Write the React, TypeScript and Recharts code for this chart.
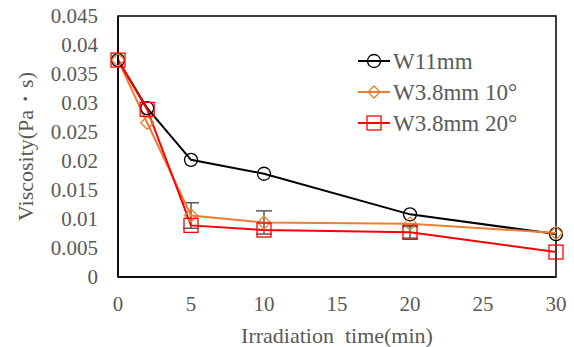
import {
  ErrorBar,
  Line,
  LineChart,
  ReferenceArea,
  XAxis,
  YAxis,
} from "recharts";

const times = [0, 2, 5, 10, 20, 30];
const w11 = [0.0374, 0.0291, 0.0202, 0.0178, 0.0108, 0.0074];
const w38deg10 = [0.0374, 0.0266, 0.0106, 0.0094, 0.0092, 0.0076];
const w38deg20 = [0.0374, 0.0289, 0.0089, 0.0081, 0.0077, 0.0043];
const errDeg10 = [null, null, 0.0022, 0.002, null, null];
const errDeg20 = [null, null, null, null, 0.001, null];
const xTicks = [0, 5, 10, 15, 20, 25, 30];
const yTicks = [0, 0.005, 0.01, 0.015, 0.02, 0.025, 0.03, 0.035, 0.04, 0.045];

const data = times.map((t, i) => ({
  t,
  w11: w11[i],
  d10: w38deg10[i],
  d20: w38deg20[i],
  e10: errDeg10[i],
  e20: errDeg20[i],
}));

const FONT = "'Times New Roman', 'Liberation Serif', 'DejaVu Serif', serif";
const TXT = "#595959";
const BLACK = "#000000";
const ORANGE = "#ED7D31";
const RED = "#FF0000";

type DotProps = { cx?: number; cy?: number; index?: number };

const circleDot = (p: DotProps) =>
  p.cx == null || p.cy == null ? null : (
    <circle key={p.index} cx={p.cx} cy={p.cy} r={6.5} fill="none" stroke={BLACK} strokeWidth={1.3} />
  );

const diamondDot = (p: DotProps) => {
  if (p.cx == null || p.cy == null) return null;
  const { cx, cy } = p;
  const s = 6.5;
  return (
    <path
      key={p.index}
      d={`M${cx},${cy - s}L${cx + s},${cy}L${cx},${cy + s}L${cx - s},${cy}Z`}
      fill="none"
      stroke={ORANGE}
      strokeWidth={1.3}
    />
  );
};

const squareDot = (p: DotProps) =>
  p.cx == null || p.cy == null ? null : (
    <rect key={p.index} x={p.cx - 7} y={p.cy - 7} width={14} height={14} fill="none" stroke={RED} strokeWidth={1.3} />
  );

const legendRows = [
  { label: "W11mm", color: BLACK, mark: "circle" },
  { label: "W3.8mm 10°", color: ORANGE, mark: "diamond" },
  { label: "W3.8mm 20°", color: RED, mark: "square" },
];

function LegendBox() {
  return (
    <svg width={210} height={110} style={{ position: "absolute", left: 352, top: 42 }}>
      {legendRows.map((r, i) => {
        const y = 19 + i * 31;
        const cx = 22;
        return (
          <g key={r.label}>
            <line x1={6} x2={38} y1={y} y2={y} stroke={r.color} strokeWidth={2} />
            {r.mark === "circle" && <circle cx={cx} cy={y} r={6.5} fill="none" stroke={r.color} strokeWidth={1.3} />}
            {r.mark === "diamond" && (
              <path d={`M${cx},${y - 6}L${cx + 6},${y}L${cx},${y + 6}L${cx - 6},${y}Z`} fill="none" stroke={r.color} strokeWidth={1.3} />
            )}
            {r.mark === "square" && <rect x={cx - 7} y={y - 7} width={14} height={14} fill="none" stroke={r.color} strokeWidth={1.3} />}
            <text x={41} y={y + 8} style={{ fontFamily: FONT, fontSize: 23 }} fill={TXT}>
              {r.label}
            </text>
          </g>
        );
      })}
    </svg>
  );
}

export default function App() {
  return (
    <div style={{ position: "absolute", left: 0, top: 0, width: 574, height: 347, background: "#fff", fontFamily: FONT }}>
      <LineChart width={574} height={347} data={data} margin={{ top: 16, right: 18, bottom: 0, left: 0 }} style={{ fontFamily: FONT }}>
        <XAxis
          dataKey="t"
          type="number"
          domain={[0, 30]}
          ticks={xTicks}
          interval={0}
          tickLine={false}
          tickMargin={13}
          axisLine={{ stroke: BLACK, strokeWidth: 1.5 }}
          tick={{ fill: TXT, fontSize: 21, fontFamily: FONT }}
          height={70}
          label={{ value: "Irradiation\u00a0 time(min)", position: "insideBottom", offset: 4, fill: TXT, fontSize: 22, fontFamily: FONT }}
        />
        <YAxis
          type="number"
          domain={[0, 0.045]}
          ticks={yTicks}
          interval={0}
          tickLine={false}
          tickMargin={14}
          width={118}
          axisLine={{ stroke: BLACK, strokeWidth: 1.5 }}
          tick={{ fill: TXT, fontSize: 21, fontFamily: FONT }}
          tickFormatter={(v: number) => String(Number(v.toFixed(3)))}
          label={{ value: "Viscosity(Pa・s)", angle: -90, position: "insideLeft", offset: 25, fill: TXT, fontSize: 22, fontFamily: FONT, style: { textAnchor: "middle" } }}
        />
        <ReferenceArea x1={0} x2={30} y1={0} y2={0.045} fill="none" stroke={BLACK} strokeWidth={1.5} ifOverflow="visible" />
        <Line dataKey="w11" stroke={BLACK} strokeWidth={2} dot={circleDot} isAnimationActive={false} />
        <Line dataKey="d10" stroke={ORANGE} strokeWidth={2} dot={diamondDot} isAnimationActive={false}>
          <ErrorBar dataKey="e10" width={8} stroke={TXT} strokeWidth={1.5} />
        </Line>
        <Line dataKey="d20" stroke={RED} strokeWidth={2} dot={squareDot} isAnimationActive={false}>
          <ErrorBar dataKey="e20" width={8} stroke={TXT} strokeWidth={1.5} />
        </Line>
      </LineChart>
      <LegendBox />
    </div>
  );
}
